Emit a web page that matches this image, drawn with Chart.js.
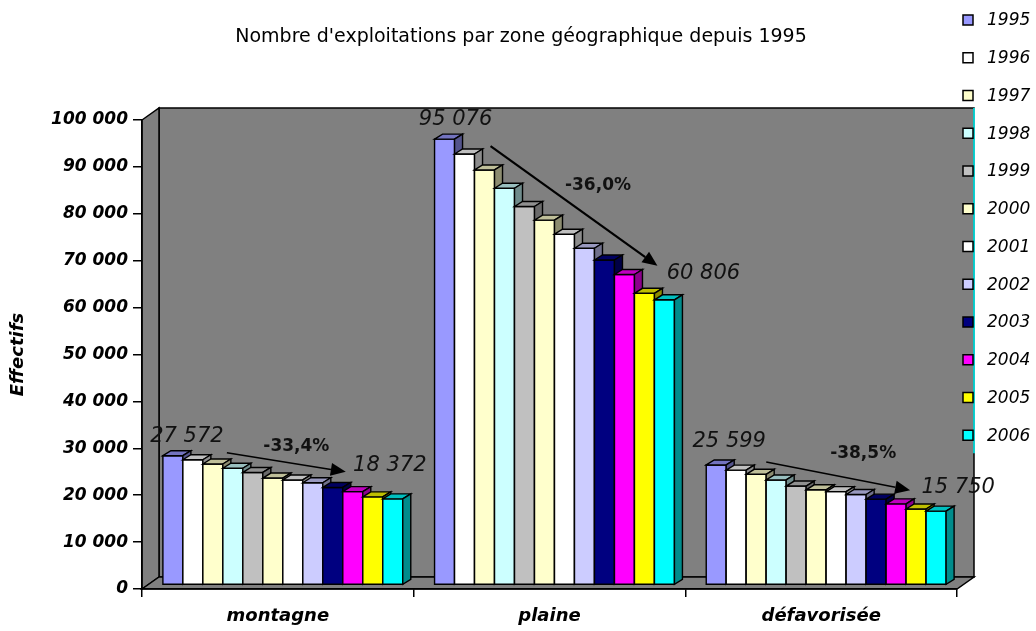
<!DOCTYPE html>
<html>
<head>
<meta charset="utf-8">
<script src="https://cdn.jsdelivr.net/npm/chart.js@4.4.1/dist/chart.umd.min.js"></script>
<style>
  html, body { margin: 0; background: #fff; }
  canvas { display: block; }
</style>
</head>
<body>
<canvas id="chart" width="1036" height="631"></canvas>
<script>
"use strict";
// Nombre d'exploitations par zone géographique, 1995-2006 (pseudo-3D columns)
const title = "Nombre d'exploitations par zone géographique depuis 1995";
const zones = ["montagne", "plaine", "défavorisée"];
const years = ["1995", "1996", "1997", "1998", "1999", "2000", "2001", "2002", "2003", "2004", "2005", "2006"];
const yearColors = ["#9999FF", "#FFFFFF", "#FFFFCC", "#CCFFFF", "#C0C0C0", "#FFFFCC",
                    "#FFFFFF", "#CCCCFF", "#000080", "#FF00FF", "#FFFF00", "#00FFFF"];
const montagne    = [27572, 26700, 25800, 24900, 24000, 22800, 22400, 21800, 20800, 19900, 18800, 18372];
const plaine      = [95076, 91900, 88500, 84600, 80700, 77800, 74800, 71800, 69300, 66200, 62200, 60806];
const defavorisee = [25599, 24500, 23600, 22400, 21100, 20300, 19900, 19300, 18300, 17300, 16200, 15750];
const yMin = 0, yMax = 100000, yStep = 10000;

const FONT = "'DejaVu Sans', sans-serif";
const WALL = { x: 17, y: -12 };   // depth of back wall
const BAR = { x: 8, y: -5 };      // depth of each column
const SHIFT = { x: 5, y: -4 };    // columns sit a bit inside the box
const fmt = (v) => String(v).replace(/\B(?=(\d{3})+(?!\d))/g, " ");
const pct = (a, b) => ((b / a - 1) * 100).toFixed(1).replace(".", ",") + "%";

// annotation placement, offsets from the first / last column front top-left corner
const NOTES = [
  { first: [24, -19], last: [7, -33], from: [64, -3], to: [-37, -27], pct: [10, -16] },
  { first: [21, -20], last: [49, -26], from: [56, 7], to: [3, -34], pct: [24, -20] },
  { first: [23, -23], last: [32, -24], from: [60, -3], to: [-16, -21], pct: [25, -22] },
];

function shade(hex, k) {
  const n = parseInt(hex.slice(1), 16);
  const r = (n >> 16) & 255, g = (n >> 8) & 255, b = n & 255;
  return `rgb(${Math.round(r * k)},${Math.round(g * k)},${Math.round(b * k)})`;
}
function poly(ctx, pts, fill, stroke, lw) {
  ctx.beginPath();
  pts.forEach((p, i) => i ? ctx.lineTo(p[0], p[1]) : ctx.moveTo(p[0], p[1]));
  ctx.closePath();
  if (fill) { ctx.fillStyle = fill; ctx.fill(); }
  if (stroke) { ctx.strokeStyle = stroke; ctx.lineWidth = lw || 1; ctx.stroke(); }
}
function arrow(ctx, x1, y1, x2, y2, lw) {
  const a = Math.atan2(y2 - y1, x2 - x1), L = 15, W = 6.5;
  const bx = x2 - L * Math.cos(a), by = y2 - L * Math.sin(a);
  ctx.strokeStyle = "#000"; ctx.lineWidth = lw;
  ctx.beginPath(); ctx.moveTo(x1, y1); ctx.lineTo(bx, by); ctx.stroke();
  poly(ctx, [[x2, y2], [bx + W * Math.sin(a), by - W * Math.cos(a)], [bx - W * Math.sin(a), by + W * Math.cos(a)]], "#000");
}

const walls = {
  id: "walls",
  beforeDraw(chart) {
    const { ctx, chartArea: { left: L, right: R, top: T, bottom: B } } = chart;
    const dx = WALL.x, dy = WALL.y;
    ctx.save();
    ctx.lineJoin = "miter";
    poly(ctx, [[L + dx, T + dy], [R + dx, T + dy], [R + dx, B + dy], [L + dx, B + dy]], "#808080", "#000", 1.5);
    poly(ctx, [[L, T], [L + dx, T + dy], [L + dx, B + dy], [L, B]], "#808080", "#000", 1.5);
    poly(ctx, [[L, B], [L + dx, B + dy], [R + dx, B + dy], [R, B]], "#808080", "#000", 1.5);
    // title, centred on the page rather than on the plot
    ctx.fillStyle = "#000";
    ctx.font = `19px ${FONT}`;
    ctx.textAlign = "center"; ctx.textBaseline = "middle";
    ctx.fillText(title, 521, 37);
    ctx.restore();
  }
};

const bars3d = {
  id: "bars3d",
  beforeDatasetDraw() { return false; },
  afterDatasetsDraw(chart) {
    const ctx = chart.ctx, sets = chart.data.datasets;
    ctx.save();
    ctx.translate(SHIFT.x, SHIFT.y);
    ctx.lineJoin = "miter";
    const corner = (j, i) => {
      const el = chart.getDatasetMeta(j).data[i];
      return { l: el.x - el.width / 2, r: el.x + el.width / 2, t: el.y, b: el.base };
    };
    zones.forEach((z, i) => {
      sets.forEach((ds, j) => {
        const { l, r, t, b } = corner(j, i), c = ds.backgroundColor;
        poly(ctx, [[l, b], [l, t], [r, t], [r, b]], c, "#000", 1.4);
        poly(ctx, [[l, t], [l + BAR.x, t + BAR.y], [r + BAR.x, t + BAR.y], [r, t]], shade(c, 0.75), "#000", 1.4);
        poly(ctx, [[r, t], [r + BAR.x, t + BAR.y], [r + BAR.x, b + BAR.y], [r, b]], shade(c, 0.55), "#000", 1.4);
      });
    });

    // first / last values, trend arrow and % change
    zones.forEach((z, i) => {
      const n = NOTES[i], last = sets.length - 1;
      const f = corner(0, i), e = corner(last, i);
      const v0 = sets[0].data[i], v1 = sets[last].data[i];
      ctx.fillStyle = "#111";
      ctx.textAlign = "center"; ctx.textBaseline = "middle";
      ctx.font = `italic 21px ${FONT}`;
      ctx.fillText(fmt(v0), f.l + n.first[0], f.t + n.first[1]);
      ctx.fillText(fmt(v1), e.l + n.last[0], e.t + n.last[1]);
      const x1 = f.l + n.from[0], y1 = f.t + n.from[1], x2 = e.l + n.to[0], y2 = e.t + n.to[1];
      arrow(ctx, x1, y1, x2, y2, i === 1 ? 2.2 : 1.6);
      ctx.fillStyle = "#111";
      ctx.font = `bold 17px ${FONT}`;
      ctx.fillText(pct(v0, v1), (x1 + x2) / 2 + n.pct[0], (y1 + y2) / 2 + n.pct[1]);
    });
    ctx.restore();
  }
};

const sideLegend = {
  id: "sideLegend",
  afterDraw(chart) {
    const { ctx, chartArea: { right: R, top: T } } = chart;
    const sets = chart.data.datasets, rowH = 37.75, y0 = 20;
    const bottom = y0 + rowH * (sets.length - 1) + 18;
    ctx.save();
    ctx.strokeStyle = "#00FFFF"; ctx.lineWidth = 1.5;
    ctx.beginPath(); ctx.moveTo(R + WALL.x, T + WALL.y); ctx.lineTo(R + WALL.x, bottom); ctx.stroke();
    ctx.font = `italic 17px ${FONT}`;
    ctx.textAlign = "left"; ctx.textBaseline = "middle";
    sets.forEach((ds, j) => {
      const cy = y0 + rowH * j;
      ctx.fillStyle = ds.backgroundColor;
      ctx.fillRect(R + 6, cy - 5, 10, 10);
      ctx.strokeStyle = "#000"; ctx.lineWidth = 1.5;
      ctx.strokeRect(R + 6, cy - 5, 10, 10);
      ctx.fillStyle = "#000";
      ctx.fillText(ds.label, R + 30, cy + 1);
    });
    ctx.restore();
  }
};

const datasets = years.map((y, j) => ({
  label: y,
  data: [montagne[j], plaine[j], defavorisee[j]],
  backgroundColor: yearColors[j],
  borderColor: "#000",
  borderWidth: 1,
}));

new Chart(document.getElementById("chart"), {
  type: "bar",
  data: { labels: zones, datasets },
  plugins: [walls, bars3d, sideLegend],
  options: {
    responsive: false,
    animation: false,
    devicePixelRatio: 1,
    categoryPercentage: 0.883,
    barPercentage: 1,
    layout: { padding: { left: 0, right: 79, top: 120, bottom: 0 } },
    plugins: {
      legend: { display: false },
      tooltip: { enabled: false },
      title: { display: false },
    },
    scales: {
      x: {
        ticks: { color: "#000", padding: 9, font: { family: FONT, size: 18, weight: "bold", style: "italic" } },
        grid: { drawOnChartArea: false, offset: true, tickLength: 8, color: "#000", lineWidth: 1.5 },
        border: { color: "#000", width: 1.5 },
        afterFit(s) { s.height = 42; },
      },
      y: {
        min: yMin, max: yMax,
        ticks: { stepSize: yStep, color: "#000", padding: 5, callback: (v) => fmt(v),
                 font: { family: FONT, size: 17, weight: "bold", style: "italic" } },
        grid: { drawOnChartArea: false, tickLength: 9, color: "#000", lineWidth: 1.5 },
        border: { color: "#000", width: 1.5 },
        title: { display: true, text: "Effectifs", color: "#000", padding: { top: 8, bottom: 0 },
                 font: { family: FONT, size: 18, weight: "bold", style: "italic" } },
        afterFit(s) { s.width = 142; },
      },
    },
  },
});
</script>
</body>
</html>
